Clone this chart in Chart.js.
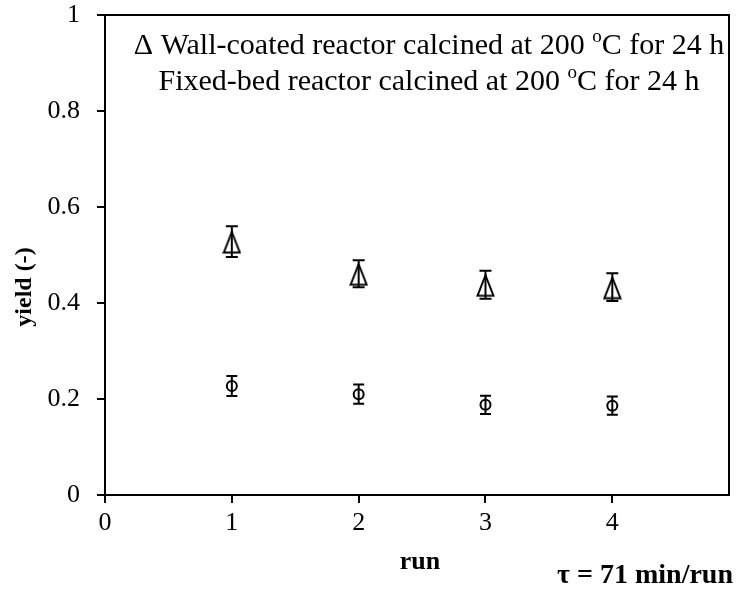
<!DOCTYPE html>
<html>
<head>
<meta charset="utf-8">
<script src="https://cdn.jsdelivr.net/npm/chart.js@4/dist/chart.umd.min.js"></script>
<style>
  html, body { margin: 0; padding: 0; background: #fff; }
  #wrap { width: 736px; height: 589px; }
</style>
</head>
<body>
<div id="wrap"><canvas id="c" width="736" height="589"></canvas></div>
<script>
// Run numbers and measured yields with their error half-widths
const runs = [1, 2, 3, 4];
const wallYield = [0.528, 0.461, 0.438, 0.433];
const wallErr = [0.032, 0.028, 0.029, 0.029];
const fixedYield = [0.227, 0.210, 0.188, 0.186];
const fixedErr = [0.021, 0.020, 0.019, 0.019];
const xTicks = [0, 1, 2, 3, 4];
const yTicks = [0, 0.2, 0.4, 0.6, 0.8, 1];

const SERIF = '"Liberation Serif", "Times New Roman", serif';
const TICK_SIZE = 26;
const NOTE_SIZE = 30;

// Open triangle marker, slightly taller than equilateral
function triangleMarker() {
  const cv = document.createElement('canvas');
  cv.width = 19; cv.height = 25;
  const g = cv.getContext('2d');
  g.strokeStyle = '#000';
  g.lineWidth = 2;
  g.lineJoin = 'miter';
  g.beginPath();
  g.moveTo(9.5, 3);
  g.lineTo(17.5, 23.5);
  g.lineTo(1.5, 23.5);
  g.closePath();
  g.stroke();
  return cv;
}

const points = (ys) => runs.map((r, i) => ({ x: r, y: ys[i] }));

// Vertical error bars with caps, drawn through the open markers
const errorBars = {
  id: 'errorBars',
  beforeDatasetsDraw(chart) {
    const { ctx, scales: { x, y } } = chart;
    const sets = [[wallYield, wallErr, 6], [fixedYield, fixedErr, 5.5]];
    ctx.save();
    ctx.strokeStyle = '#000';
    ctx.lineWidth = 2;
    sets.forEach(([vals, errs, cap]) => {
      vals.forEach((v, i) => {
        const px = x.getPixelForValue(runs[i]);
        const top = y.getPixelForValue(v + errs[i]);
        const bot = y.getPixelForValue(v - errs[i]);
        ctx.beginPath();
        ctx.moveTo(px, top); ctx.lineTo(px, bot);
        ctx.moveTo(px - cap, top); ctx.lineTo(px + cap, top);
        ctx.moveTo(px - cap, bot); ctx.lineTo(px + cap, bot);
        ctx.stroke();
      });
    });
    ctx.restore();
  }
};

// One centred line of text with a raised small "o" for the degree sign
function drawDegreeLine(ctx, parts, cx, cy, size) {
  const sup = Math.round(size * 0.62);
  let total = 0;
  parts.forEach(([t, s]) => {
    ctx.font = (s ? sup : size) + 'px ' + SERIF;
    total += ctx.measureText(t).width;
  });
  let xpos = cx - total / 2;
  parts.forEach(([t, s]) => {
    ctx.font = (s ? sup : size) + 'px ' + SERIF;
    ctx.fillText(t, xpos, s ? cy - size * 0.3 : cy);
    xpos += ctx.measureText(t).width;
  });
}

// Plot frame, notes and axis captions
const decorations = {
  id: 'decorations',
  afterDraw(chart) {
    const { ctx, chartArea: a } = chart;
    ctx.save();
    ctx.strokeStyle = '#000';
    ctx.lineWidth = 2;
    ctx.beginPath();
    ctx.moveTo(a.left, a.top); ctx.lineTo(a.right, a.top); ctx.lineTo(a.right, a.bottom);
    ctx.stroke();

    ctx.fillStyle = '#000';
    ctx.textBaseline = 'middle';
    ctx.textAlign = 'left';
    drawDegreeLine(ctx, [['\u0394 Wall-coated reactor calcined at 200 ', false], ['o', true], ['C for 24 h', false]], 429, 46, NOTE_SIZE);
    drawDegreeLine(ctx, [['Fixed-bed reactor calcined at 200 ', false], ['o', true], ['C for 24 h', false]], 429, 82, NOTE_SIZE);

    ctx.font = 'bold 26px ' + SERIF;
    ctx.textAlign = 'center';
    ctx.fillText('run', 420, 562);
    ctx.font = 'bold 28px ' + SERIF;
    ctx.textAlign = 'right';
    ctx.fillText('\u03C4 = 71 min/run', 733, 576);

    ctx.font = 'bold 24px ' + SERIF;
    ctx.translate(25, 287);
    ctx.rotate(-Math.PI / 2);
    ctx.textAlign = 'center';
    ctx.fillText('yield (-)', 0, 0);
    ctx.restore();
  }
};

new Chart(document.getElementById('c'), {
  type: 'scatter',
  data: {
    datasets: [
      {
        label: 'Wall-coated reactor calcined at 200 \u00B0C for 24 h',
        data: points(wallYield),
        pointStyle: triangleMarker(),
        borderColor: '#000',
        backgroundColor: 'rgba(0,0,0,0)'
      },
      {
        label: 'Fixed-bed reactor calcined at 200 \u00B0C for 24 h',
        data: points(fixedYield),
        pointStyle: 'circle',
        pointRadius: 5,
        borderWidth: 2,
        borderColor: '#000',
        backgroundColor: 'rgba(0,0,0,0)'
      }
    ]
  },
  options: {
    responsive: false,
    animation: false,
    layout: { padding: { top: 15, right: 3, left: 0, bottom: 0 } },
    plugins: { legend: { display: false }, tooltip: { enabled: false } },
    scales: {
      x: {
        type: 'linear',
        min: 0,
        max: 4.92,
        afterBuildTicks: (s) => { s.ticks = xTicks.map(v => ({ value: v })); },
        afterFit: (s) => { s.height = 94; s.paddingLeft = 0; s.paddingRight = 0; },
        grid: { drawOnChartArea: false, drawTicks: true, tickLength: 8, color: '#000', lineWidth: 2 },
        border: { color: '#000', width: 2 },
        ticks: { color: '#000', padding: 5, maxRotation: 0, font: { family: SERIF, size: TICK_SIZE } }
      },
      y: {
        type: 'linear',
        min: 0,
        max: 1,
        afterBuildTicks: (s) => { s.ticks = yTicks.map(v => ({ value: v })); },
        afterFit: (s) => { s.width = 105; s.paddingTop = 0; s.paddingBottom = 0; },
        grid: { drawOnChartArea: false, drawTicks: true, tickLength: 8, color: '#000', lineWidth: 2 },
        border: { color: '#000', width: 2 },
        ticks: { color: '#000', padding: 17, font: { family: SERIF, size: TICK_SIZE }, callback: (v) => String(v) }
      }
    }
  },
  plugins: [errorBars, decorations]
});
</script>
</body>
</html>
